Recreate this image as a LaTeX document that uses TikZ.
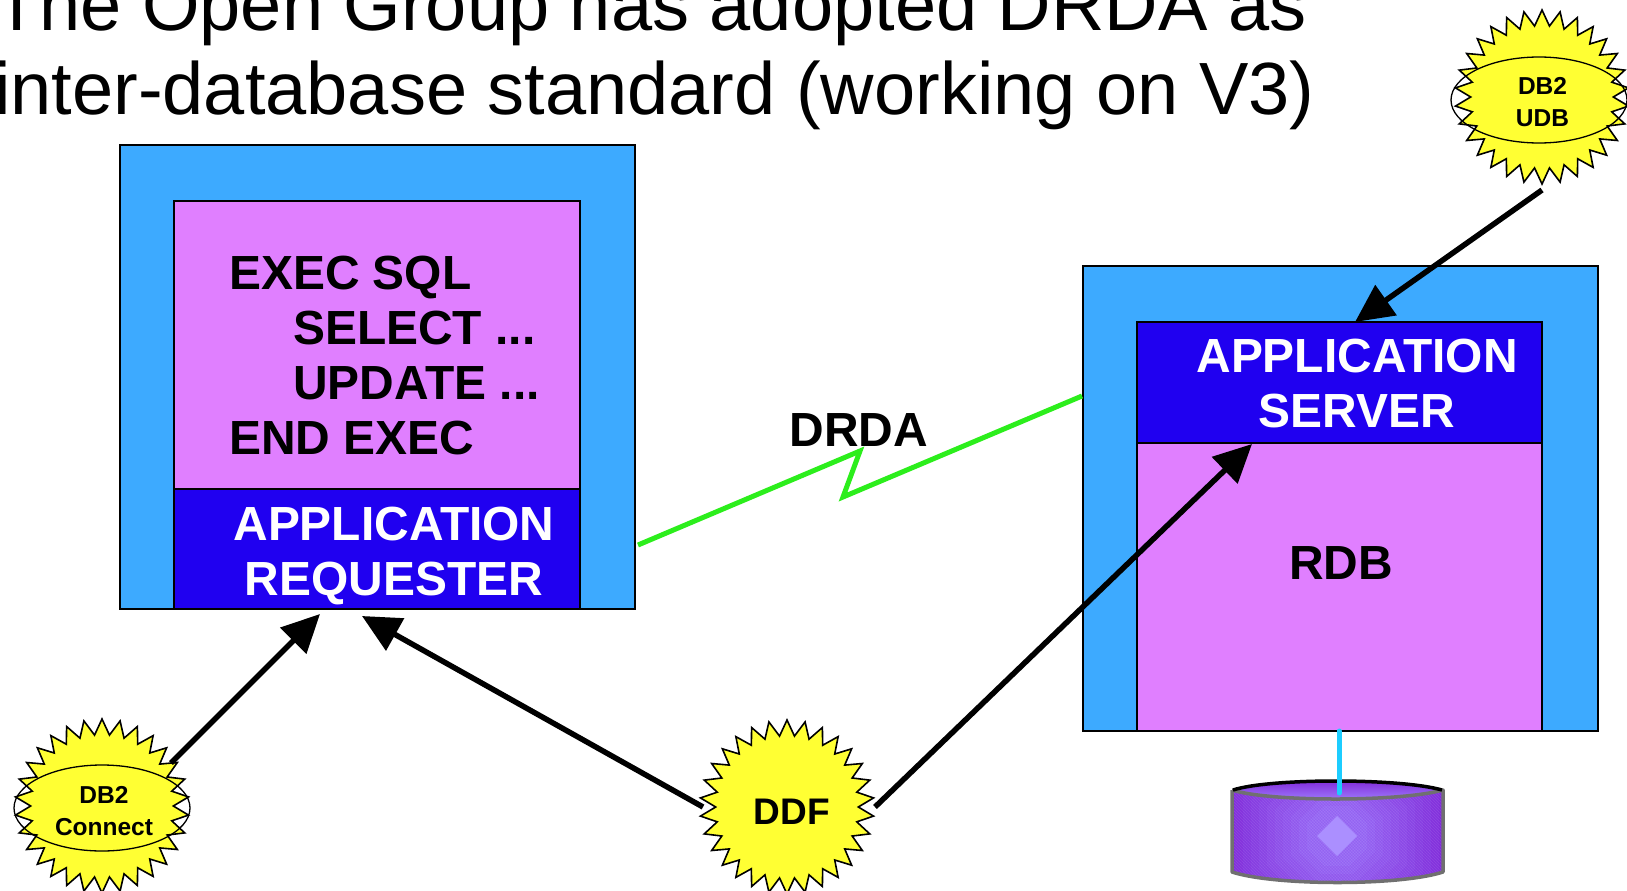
\documentclass[tikz,border=0pt]{standalone}
\usepackage{fontspec}
\setmainfont{Liberation Sans}
\usetikzlibrary{arrows.meta,shapes.geometric,calc}
\definecolor{outerblue}{HTML}{3DAAFF}
\definecolor{pinkfill}{HTML}{E07FFF}
\definecolor{deepblue}{HTML}{2000F0}
\definecolor{burst}{HTML}{FFFF33}
\definecolor{linkgreen}{HTML}{2CEE1C}
\definecolor{pipecyan}{HTML}{1CCDFF}
\definecolor{diskdark}{HTML}{7E22D6}
\definecolor{disklight}{HTML}{A080FF}
\definecolor{diskgray}{HTML}{707070}
\tikzset{
  x=1pt,y=-1pt,
  box/.style={draw=black,line width=2pt,anchor=north west,inner sep=0pt,outer sep=0pt},
  label/.style={font=\fontsize{47.9}{55}\selectfont\bfseries,inner sep=0pt,align=center,anchor=north},
  whitelabel/.style={label,text=white},
  burststar/.style={star,star points=30,star point ratio=1.22,draw=black,line width=1.6pt,fill=burst,
    minimum size=174pt,inner sep=0pt},
  burstlabel/.style={inner sep=0pt,align=center,font=\fontsize{24.5}{32}\selectfont\bfseries},
  halo/.style={ellipse,draw=black,line width=1.3pt,minimum width=176pt,minimum height=86pt,inner sep=0pt},
  bigarrow/.style={line width=5.5pt,black,-{Triangle[length=38pt,width=36pt]}},
}
\begin{document}
\begin{tikzpicture}
\useasboundingbox (0,0) rectangle (1627,891);
% title
\node[anchor=north west,inner sep=0pt,align=left,font=\fontsize{74}{84}\selectfont] (title) at (-6,-23) {The Open Group has adopted DRDA as\\inter-database standard (working on V3)};
% requester box
\node[box,fill=outerblue,minimum width=515pt,minimum height=464pt] (reqouter) at (120,145) {};
\node[box,fill=pinkfill,minimum width=406pt,minimum height=288pt] (reqcode) at (174,201) {};
\node[box,fill=deepblue,minimum width=406pt,minimum height=120pt] (reqblue) at (174,489) {};
\node[label,align=left,anchor=north west] (code) at (229,256) {EXEC SQL\\\hspace*{64pt}SELECT ...\\\hspace*{64pt}UPDATE ...\\END EXEC};
\node[whitelabel] (reqtext) at (394,507) {APPLICATION\\REQUESTER};
% server box
\node[box,fill=outerblue,minimum width=515pt,minimum height=465pt] (srvouter) at (1083,266) {};
\node[box,fill=pinkfill,minimum width=405pt,minimum height=409pt] (srvpink) at (1137,322) {};
\node[box,fill=deepblue,minimum width=405pt,minimum height=121pt] (srvblue) at (1137,322) {};
\node[whitelabel] (srvtext) at (1357,339) {APPLICATION\\SERVER};
\node[label] (rdb) at (1341,546.5) {RDB};
% disk
\begin{scope}
  \clip (1232,790) .. controls (1270,802) and (1400,802) .. (1443,790) -- (1443,872) .. controls (1400,886) and (1275,886) .. (1232,872) -- cycle;
  \fill[diskdark] (1225,775) rectangle (1450,890);
  \foreach \r in {118,110,...,30}{
    \pgfmathsetmacro{\m}{100-\r*0.78}
    \fill[disklight!\m!diskdark] ($(1337,836)+(-\r,-0.42*\r)$) -- ($(1337,836)+(-0.42*\r,-\r)$) -- ($(1337,836)+(0.42*\r,-\r)$) -- ($(1337,836)+(\r,-0.42*\r)$) -- ($(1337,836)+(\r,0.42*\r)$) -- ($(1337,836)+(0.42*\r,\r)$) -- ($(1337,836)+(-0.42*\r,\r)$) -- ($(1337,836)+(-\r,0.42*\r)$) -- cycle;
  }
  \foreach \k in {0,3,...,330}{
    \draw[diskdark,line width=0.5pt,opacity=0.14] (1225+\k,775) -- ++(-120,120);
    \draw[white,line width=0.5pt,opacity=0.10] (1105+\k,775) -- ++(120,120);
  }
  \fill[white!12!disklight] (1337,816) -- (1357,836) -- (1337,856) -- (1317,836) -- cycle;
\end{scope}
\shade[top color=diskdark,bottom color=disklight] (1232,790) .. controls (1270,778) and (1400,778) .. (1443,790) .. controls (1400,802) and (1270,802) .. (1232,790) -- cycle;
\draw[diskgray,line width=3.5pt,line join=round] (1232,790) -- (1232,872) .. controls (1275,886) and (1400,886) .. (1443,872) -- (1443,790) .. controls (1400,802) and (1270,802) .. (1232,790);
\draw[black,line width=3.5pt] (1233,790) .. controls (1270,778) and (1400,778) .. (1442,790);
% pipe
\coordinate (pipeend) at (1339,793);
\draw[pipecyan,line width=5pt,line cap=round] (srvpink.south -| pipeend) -- (pipeend);
% DRDA link
\node[label] (drda) at (859,413.5) {DRDA};
\coordinate (linkleft) at (638,545);
\coordinate (linkup) at (860,451);
\coordinate (linkdown) at (843,497);
\coordinate (linkright) at (1082,396);
\draw[linkgreen,line width=5pt,line join=miter] (linkleft) -- (linkup) -- (linkdown) -- (linkright);
% bursts
\node[burststar] (udb) at (1542,97) {};
\node[halo] (udbhalo) at (1539,100) {};
\node[burstlabel] (udbtext) at (1542.5,102) {DB2\\UDB};
\node[burststar] (connect) at (102,806) {};
\node[halo] (connecthalo) at (102,808) {};
\node[burstlabel] (connecttext) at (104,811.5) {DB2\\Connect};
\node[burststar] (ddf) at (787,807) {};
\node[burstlabel,font=\fontsize{37}{42}\selectfont\bfseries] (ddftext) at (792,812) {DDF};
% arrows
\coordinate (c1) at (171,763);
\coordinate (t1) at (320,614);
\coordinate (d1) at (703,807);
\coordinate (t2) at (362,616);
\coordinate (d2) at (875,807);
\coordinate (t3) at (1252,444);
\coordinate (u1) at (1542,190);
\coordinate (t4) at (1355,322);
\draw[bigarrow] (c1) -- (t1);
\draw[bigarrow] (d1) -- (t2);
\draw[bigarrow] (d2) -- (t3);
\draw[bigarrow] (u1) -- (t4);
\end{tikzpicture}
\end{document}
